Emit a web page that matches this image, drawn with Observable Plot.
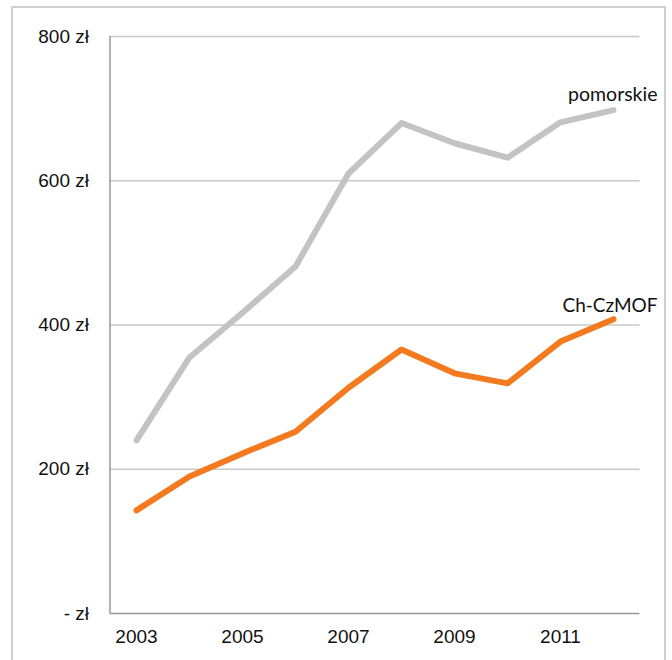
<!DOCTYPE html>
<html><head><meta charset="utf-8">
<script src="https://cdn.jsdelivr.net/npm/d3@7"></script>
<script src="https://cdn.jsdelivr.net/npm/@observablehq/plot@0.6"></script>
<style>
html,body{margin:0;padding:0;background:#fff;overflow:hidden;}
#frame{position:absolute;left:11px;top:6px;width:655px;height:720px;border:2px solid #d0d0d0;box-sizing:border-box;}
#chart{position:absolute;left:0;top:0;}
</style></head>
<body>
<div id="frame"></div>
<div id="chart"></div>
<script>
const years = [2003,2004,2005,2006,2007,2008,2009,2010,2011,2012];
const pomorskie = [240,355,417,481,610,680,652,632,681,698];
const chczmof = [143,190,222,252,313,366,333,319,377,408];
const yTicks = [0,200,400,600,800];
const xTicks = [2003,2005,2007,2009,2011];

const data = [];
years.forEach((y,i)=>{
  data.push({year:y, value:pomorskie[i], series:"pomorskie"});
  data.push({year:y, value:chczmof[i], series:"Ch-CzMOF"});
});
const lastP = {year:years[years.length-1], value:pomorskie[pomorskie.length-1], label:"pomorskie"};
const lastC = {year:years[years.length-1], value:chczmof[chczmof.length-1], label:"Ch-CzMOF"};

const chart = Plot.plot({
  width:672, height:660,
  marginLeft:109.5, marginRight:32.5, marginTop:36, marginBottom:47,
  style:{fontFamily:"'Liberation Sans', Arial, sans-serif", fontSize:"19px", color:"#111", background:"transparent"},
  x:{domain:[2002.5,2012.5], ticks:xTicks, tickFormat:d=>String(d), tickSize:0, tickPadding:16, label:null},
  y:{domain:[0,800], ticks:yTicks, tickFormat:d=> d===0 ? "- zł" : d+" zł", tickSize:0, tickPadding:21, label:null},
  marks:[
    Plot.ruleY(yTicks.filter(d=>d>0), {stroke:"#c8c8c8", strokeWidth:1.5, strokeOpacity:1}),
    Plot.ruleY([0], {stroke:"#999", strokeWidth:1.5}),
    Plot.ruleX([2002.5], {y1:0, y2:800, stroke:"#999", strokeWidth:1.5}),
    Plot.line(data.filter(d=>d.series==="pomorskie"), {x:"year", y:"value", stroke:"#c3c3c3", strokeWidth:6, strokeLinecap:"round", strokeLinejoin:"round"}),
    Plot.line(data.filter(d=>d.series==="Ch-CzMOF"), {x:"year", y:"value", stroke:"#f47a20", strokeWidth:6, strokeLinecap:"round", strokeLinejoin:"round"}),
    Plot.text([lastP], {x:"year", y:"value", text:"label", textAnchor:"end", dx:44, dy:-15, fontSize:19.5, fontFamily:"Lato, sans-serif", fill:"#111"}),
    Plot.text([lastC], {x:"year", y:"value", text:"label", textAnchor:"end", dx:44, dy:-13, fontSize:19, fontFamily:"Lato, sans-serif", fill:"#111"})
  ]
});
document.getElementById("chart").appendChild(chart);
</script>
</body></html>
